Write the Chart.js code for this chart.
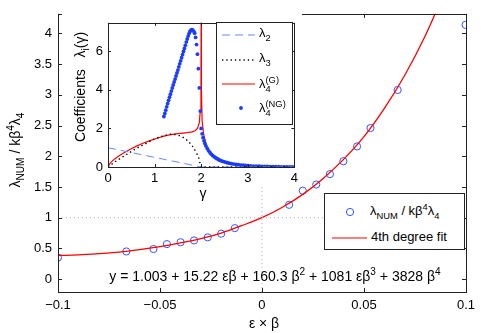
<!DOCTYPE html>
<html>
<head>
<meta charset="utf-8">
<script src="https://cdn.jsdelivr.net/npm/chart.js@4/dist/chart.umd.min.js"></script>
<style>
  html, body { margin: 0; padding: 0; background: #fff; }
  #wrap { position: relative; width: 481px; height: 333px; overflow: hidden;
          font-family: 'Liberation Sans', Arial, sans-serif; color: #000; }
  #main { position: absolute; left: 0; top: 0; }
  #inset { position: absolute; left: 62px; top: 10px; background: #fff; }
  .lbl { position: absolute; white-space: nowrap; font-size: 14px; line-height: 16px; }
  sub, sup { font-size: 72%; line-height: 0; }
  .legend { position: absolute; background: #fff; border: 1px solid #222; box-sizing: border-box; }
  .row { position: absolute; white-space: nowrap; font-size: 13px; line-height: 16px; }
  .sym { position: absolute; }
  .stk { display: inline-flex; flex-direction: column; vertical-align: 5px; font-size: 72%; line-height: 1; }
</style>
</head>
<body>
<div id="wrap">
  <canvas id="main" width="481" height="333"></canvas>
  <canvas id="inset" width="240" height="176"></canvas>

  <!-- main axis titles + fit equation -->
  <div class="lbl" style="left:-45px;top:142px;width:120px;text-align:center;transform:rotate(-90deg);">λ<sub>NUM</sub> / kβ<sup>4</sup>λ<sub>4</sub></div>
  <div class="lbl" style="left:214px;top:315px;width:100px;text-align:center;">ε × β</div>
  <div class="lbl" style="left:75px;top:268px;width:400px;text-align:center;">y = 1.003 + 15.22 εβ + 160.3 β<sup>2</sup> + 1081 εβ<sup>3</sup> + 3828 β<sup>4</sup></div>

  <!-- inset titles -->
  <div class="lbl" style="left:0px;top:79px;width:160px;text-align:center;transform:rotate(-90deg);">Coefficients&nbsp;&nbsp;&nbsp;λ<sub>i</sub>(γ)</div>
  <div class="lbl" style="left:193px;top:185px;width:20px;text-align:center;">γ</div>

  <!-- inset legend -->
  <div class="legend" style="left:216px;top:22px;width:77px;height:103px;">
    <svg class="sym" style="left:5px;top:7px" width="33" height="10"><line x1="0" y1="5" x2="33" y2="5" stroke="#6a88ff" stroke-width="1" stroke-dasharray="8,5"/></svg>
    <div class="row" style="left:42px;top:2px;">λ<sub>2</sub></div>
    <svg class="sym" style="left:5px;top:32px" width="33" height="10"><line x1="0" y1="5" x2="33" y2="5" stroke="#000" stroke-width="1.3" stroke-dasharray="1.3,3"/></svg>
    <div class="row" style="left:42px;top:27px;">λ<sub>3</sub></div>
    <svg class="sym" style="left:5px;top:56px" width="33" height="10"><line x1="0" y1="5" x2="33" y2="5" stroke="#ff0000" stroke-width="1.2"/></svg>
    <div class="row" style="left:42px;top:53px;">λ<span class="stk"><span>(G)</span><span>4</span></span></div>
    <svg class="sym" style="left:5px;top:80px" width="33" height="10"><circle cx="19" cy="5" r="1.9" fill="#1a3cff"/></svg>
    <div class="row" style="left:42px;top:77px;">λ<span class="stk"><span>(NG)</span><span>4</span></span></div>
  </div>

  <!-- main legend -->
  <div class="legend" style="left:324px;top:193px;width:141px;height:57px;">
    <svg class="sym" style="left:19px;top:12px" width="12" height="12"><circle cx="6" cy="6" r="3.6" fill="none" stroke="#3355ff" stroke-width="1"/></svg>
    <div class="row" style="left:45px;top:9px;">λ<sub>NUM</sub> / kβ<sup>4</sup>λ<sub>4</sub></div>
    <svg class="sym" style="left:7px;top:39px" width="35" height="10"><line x1="0" y1="5" x2="35" y2="5" stroke="#ff0000" stroke-width="1.2"/></svg>
    <div class="row" style="left:46px;top:35px;">4th degree fit</div>
  </div>
</div>

<script>
// main axes
var xTicks = [-0.1, -0.05, 0, 0.05, 0.1];
var xTickLabels = ['\u22120.1', '\u22120.05', '0', '0.05', '0.1'];
var yTicks = [0, 0.5, 1, 1.5, 2, 2.5, 3, 3.5, 4];

// numerical points (blue circles)
var numX = [-0.1, -0.0665, -0.0532, -0.0466, -0.0399, -0.0333, -0.0266, -0.02, -0.0133,
            0.0133, 0.02, 0.0266, 0.0333, 0.0399, 0.0466, 0.0532, 0.0665, 0.0998];
var numY = [0.35, 0.45, 0.49, 0.57, 0.60, 0.63, 0.68, 0.74, 0.83,
            1.21, 1.44, 1.54, 1.71, 1.92, 2.16, 2.46, 3.08, 4.14];

// 4th degree fit (red line)
var fitX = [-0.1, -0.09, -0.08, -0.07, -0.06, -0.05, -0.04, -0.03, -0.02, -0.01,
            0, 0.01, 0.02, 0.03, 0.04, 0.05, 0.06, 0.07, 0.08, 0.09];
var fitY = [0.385, 0.395, 0.415, 0.44, 0.48, 0.53, 0.59, 0.66, 0.75, 0.87,
            1.00, 1.17, 1.38, 1.64, 1.95, 2.32, 2.78, 3.32, 3.96, 4.71];

// inset axes
var insetXTicks = [0, 1, 2, 3, 4];
var insetYTicks = [0, 2, 4, 6];

// lambda_2 (dashed)
var gam2 = [0, 2, 4];
var lam2 = [1.0, 0, 0];

// lambda_3 (dotted)
var gam3 = [0, 0.2, 0.4, 0.6, 0.8, 1.0, 1.2, 1.35, 1.5, 1.6, 1.7, 1.8, 1.9, 1.95, 2.0, 4.0];
var lam3 = [0, 0.35, 0.65, 0.95, 1.2, 1.45, 1.62, 1.70, 1.65, 1.55, 1.38, 1.12, 0.72, 0.45, 0, 0];

// lambda_4 (G) red
var gamG = [0, 0.05, 0.1, 0.2, 0.3, 0.4, 0.5, 0.6, 0.75, 0.9, 1.05, 1.2, 1.35, 1.5, 1.6, 1.7, 1.8,
            1.87, 1.92, 1.96, 1.98, 1.995, 2.0, 2.005, 2.02, 2.05, 2.1, 2.15, 2.2, 2.3, 2.4, 2.5,
            2.7, 3.0, 3.3, 3.6, 4.0];
var lamG = [0, 0.22, 0.33, 0.52, 0.68, 0.82, 0.95, 1.07, 1.23, 1.37, 1.49, 1.6, 1.68, 1.73, 1.76, 1.78, 1.82,
            1.88, 2.0, 2.3, 2.9, 4.5, 9, 4.0, 2.4, 1.75, 1.2, 0.9, 0.7, 0.48, 0.35, 0.26,
            0.15, 0.08, 0.04, 0.02, 0.01];

// lambda_4 (NG) blue dots
var gamNG = [1.20, 1.22, 1.24, 1.26, 1.28, 1.30, 1.32, 1.34, 1.36, 1.38, 1.40, 1.42, 1.44, 1.46, 1.48,
             1.50, 1.52, 1.54, 1.56, 1.58, 1.60, 1.62, 1.64, 1.66, 1.68, 1.70, 1.72, 1.74, 1.76, 1.78,
             1.80, 1.82, 1.84, 1.86, 1.88, 1.90, 1.92, 1.94, 1.96, 1.98, 2.00,
             2.02, 2.04, 2.06, 2.08, 2.10, 2.13, 2.16, 2.19, 2.22, 2.25, 2.28, 2.31, 2.34, 2.37, 2.40,
             2.44, 2.48, 2.52, 2.56, 2.60, 2.65, 2.70, 2.75, 2.80, 2.85, 2.90, 2.95, 3.00, 3.06, 3.12,
             3.18, 3.24, 3.30, 3.36, 3.42, 3.48, 3.54, 3.60, 3.66, 3.72, 3.78, 3.84, 3.90, 3.96];
var lamNG = [2.62, 2.78, 2.95, 3.12, 3.29, 3.46, 3.62, 3.78, 3.94, 4.10, 4.26, 4.41, 4.56, 4.72, 4.88,
             5.03, 5.19, 5.35, 5.51, 5.67, 5.83, 5.99, 6.15, 6.31, 6.48, 6.64, 6.79, 6.92, 7.03, 7.10,
             7.12, 7.10, 7.04, 6.94, 6.72, 6.35, 5.85, 5.10, 4.10, 2.90, 2.00,
             1.72, 1.52, 1.36, 1.22, 1.10, 0.96, 0.84, 0.74, 0.66, 0.59, 0.53, 0.48, 0.43, 0.39, 0.35,
             0.31, 0.28, 0.25, 0.22, 0.20, 0.17, 0.15, 0.13, 0.12, 0.10, 0.09, 0.08, 0.07, 0.06, 0.05,
             0.045, 0.04, 0.035, 0.03, 0.025, 0.02, 0.018, 0.015, 0.012, 0.01, 0.008, 0.006, 0.005, 0.004];

function pts(xs, ys) {
  return xs.map(function (x, i) { return { x: x, y: ys[i] }; });
}

Chart.defaults.font.family = "'Liberation Sans', Arial, sans-serif";
Chart.defaults.font.size = 13;
Chart.defaults.color = '#000';

// MATLAB-like box with inward ticks on all four sides
function boxPlugin(tickLen) {
  return {
    id: 'axbox',
    afterDatasetsDraw: function (chart) {
      var a = chart.chartArea, ctx = chart.ctx;
      var xs = chart.scales.x, ys = chart.scales.y;
      ctx.save();
      ctx.strokeStyle = '#222';
      ctx.lineWidth = 1;
      ctx.beginPath();
      xs.ticks.forEach(function (t) {
        var px = Math.round(xs.getPixelForValue(t.value)) + 0.5;
        ctx.moveTo(px, a.bottom); ctx.lineTo(px, a.bottom - tickLen);
        ctx.moveTo(px, a.top); ctx.lineTo(px, a.top + tickLen);
      });
      ys.ticks.forEach(function (t) {
        var py = Math.round(ys.getPixelForValue(t.value)) + 0.5;
        ctx.moveTo(a.left, py); ctx.lineTo(a.left + tickLen, py);
        ctx.moveTo(a.right, py); ctx.lineTo(a.right - tickLen, py);
      });
      ctx.stroke();
      ctx.strokeRect(Math.round(a.left) + 0.5, Math.round(a.top) + 0.5,
                     Math.round(a.right - a.left), Math.round(a.bottom - a.top));
      ctx.restore();
    }
  };
}

function setTicks(list) {
  return function (scale) { scale.ticks = list.map(function (v) { return { value: v }; }); };
}

new Chart(document.getElementById('main'), {
  type: 'scatter',
  data: {
    datasets: [
      { data: [{ x: 0, y: -0.21 }, { x: 0, y: 4.32 }], showLine: true, borderColor: '#b4b4b4',
        borderWidth: 1, borderDash: [1, 3], pointRadius: 0 },
      { data: [{ x: -0.1, y: 1 }, { x: 0.1, y: 1 }], showLine: true, borderColor: '#b4b4b4',
        borderWidth: 1, borderDash: [1, 3], pointRadius: 0 },
      { data: pts(fitX, fitY), showLine: true, borderColor: '#ff0000', borderWidth: 1.3,
        cubicInterpolationMode: 'monotone', pointRadius: 0 },
      { data: pts(numX, numY), showLine: false, pointStyle: 'circle', pointRadius: 3.6,
        pointBorderWidth: 1, pointBorderColor: '#3355ff', pointBackgroundColor: 'rgba(0,0,0,0)' }
    ]
  },
  options: {
    responsive: false, animation: false, devicePixelRatio: 1,
    layout: { padding: { left: 0, top: 7, right: 11, bottom: 0 } },
    plugins: { legend: { display: false }, tooltip: { enabled: false } },
    scales: {
      x: {
        type: 'linear', min: -0.1, max: 0.1,
        afterBuildTicks: setTicks(xTicks),
        afterFit: function (s) { s.height = 41; },
        grid: { display: false, drawTicks: false }, border: { display: false },
        ticks: { padding: 6, maxRotation: 0, autoSkip: false,
                 callback: function (v, i) { return xTickLabels[i]; } }
      },
      y: {
        type: 'linear', min: -0.21, max: 4.32,
        afterBuildTicks: setTicks(yTicks),
        afterFit: function (s) { s.width = 58; },
        grid: { display: false, drawTicks: false }, border: { display: false },
        ticks: { padding: 6, autoSkip: false, callback: function (v) { return String(v); } }
      }
    }
  },
  plugins: [boxPlugin(4)]
});

new Chart(document.getElementById('inset'), {
  type: 'scatter',
  data: {
    datasets: [
      { data: pts(gam2, lam2), showLine: true, borderColor: '#6a88ff', borderWidth: 1,
        borderDash: [8, 5], pointRadius: 0 },
      { data: pts(gam3, lam3), showLine: true, borderColor: '#000', borderWidth: 1.4,
        borderDash: [1.4, 3], cubicInterpolationMode: 'monotone', pointRadius: 0 },
      { data: pts(gamNG, lamNG), showLine: false, pointStyle: 'circle', pointRadius: 1.9,
        pointBorderWidth: 0, pointBackgroundColor: '#1a3cff' },
      { data: pts(gamG, lamG), showLine: true, borderColor: '#ff0000', borderWidth: 1.2,
        pointRadius: 0 }
    ]
  },
  options: {
    responsive: false, animation: false, devicePixelRatio: 1,
    layout: { padding: { left: 0, top: 6, right: 5, bottom: 0 } },
    plugins: { legend: { display: false }, tooltip: { enabled: false } },
    scales: {
      x: {
        type: 'linear', min: 0, max: 4,
        afterBuildTicks: setTicks(insetXTicks),
        afterFit: function (s) { s.height = 19; },
        grid: { display: false, drawTicks: false }, border: { display: false },
        ticks: { padding: 4, maxRotation: 0, autoSkip: false, callback: function (v) { return String(v); } }
      },
      y: {
        type: 'linear', min: 0, max: 7.48,
        afterBuildTicks: setTicks(insetYTicks),
        afterFit: function (s) { s.width = 46; },
        grid: { display: false, drawTicks: false }, border: { display: false },
        ticks: { padding: 5, autoSkip: false, callback: function (v) { return String(v); } }
      }
    }
  },
  plugins: [boxPlugin(3)]
});
</script>
</body>
</html>
